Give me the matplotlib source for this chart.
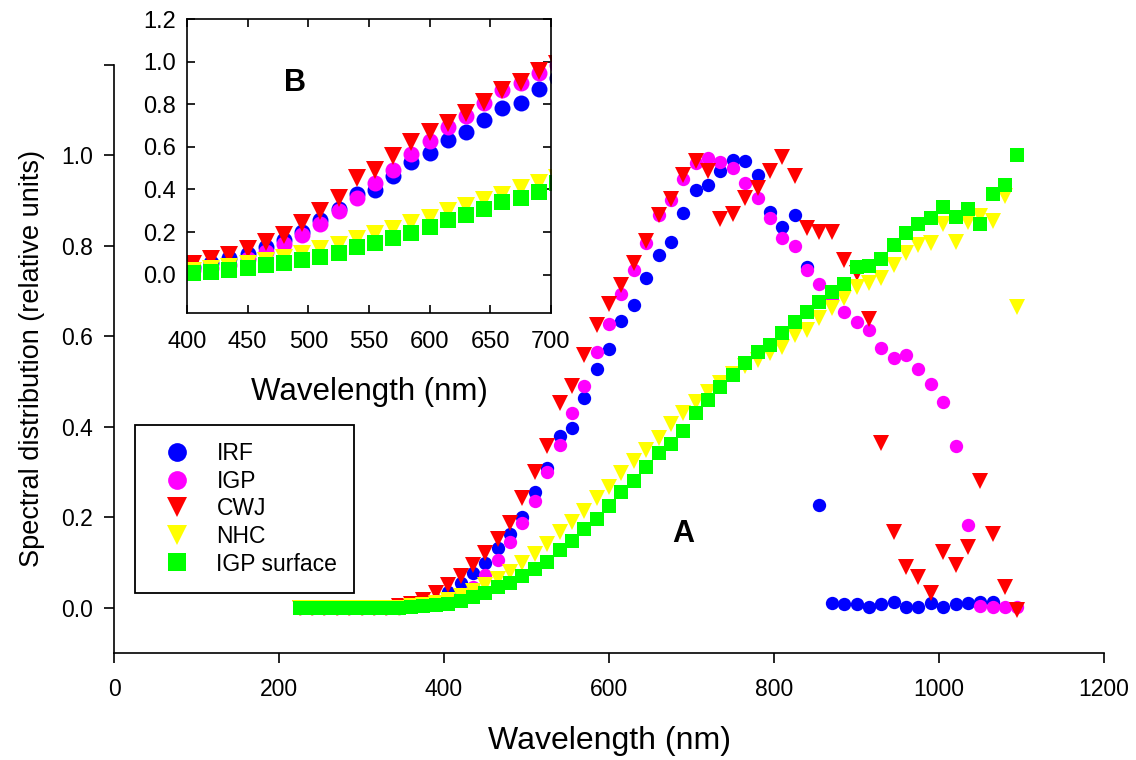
import numpy as np
import matplotlib
matplotlib.use('Agg')
import matplotlib.pyplot as plt
from matplotlib.lines import Line2D
from matplotlib.ticker import FormatStrFormatter

plt.rcParams['font.family'] = ['Liberation Sans', 'DejaVu Sans']

# data (relative units), 15 nm grid
wavelength = [225, 240, 255, 270, 285, 300, 315, 330, 345, 360,
              375, 390, 405, 420, 435, 450, 465, 480, 495, 510,
              525, 540, 555, 570, 585, 600, 615, 630, 645, 660,
              675, 690, 705, 720, 735, 750, 765, 780, 795, 810,
              825, 840, 855, 870, 885, 900, 915, 930, 945, 960,
              975, 990, 1005, 1020, 1035, 1050, 1065, 1080, 1095]

irf = [0.0, 0.0, 0.0, 0.0, 0.0, 0.0, 0.0, 0.0, 0.0, 0.003,
       0.008, 0.018, 0.035, 0.055, 0.076, 0.098, 0.131, 0.164, 0.200, 0.255,
       0.308, 0.380, 0.398, 0.463, 0.527, 0.572, 0.634, 0.668, 0.728, 0.780,
       0.808, 0.872, 0.922, 0.934, 0.966, 0.990, 0.988, 0.956, 0.874, 0.841,
       0.868, 0.754, 0.227, 0.010, 0.008, 0.008, 0.002, 0.008, 0.013, 0.002,
       0.001, 0.010, 0.001, 0.008, 0.010, 0.013, 0.013, np.nan, np.nan]

igp = [0.0, 0.0, 0.0, 0.0, 0.0, 0.0, 0.0, 0.0, 0.0, 0.003,
       0.007, 0.012, 0.020, 0.030, 0.046, 0.072, 0.105, 0.145, 0.188, 0.236,
       0.300, 0.360, 0.430, 0.489, 0.565, 0.628, 0.694, 0.746, 0.805, 0.868,
       0.900, 0.947, 0.982, 0.993, 0.986, 0.971, 0.938, 0.905, 0.861, 0.816,
       0.799, 0.746, 0.716, 0.684, 0.654, 0.631, 0.614, 0.573, 0.551, 0.558,
       0.527, 0.494, 0.454, 0.358, 0.183, 0.003, 0.001, 0.001, 0.001]

cwj = [0.0, 0.0, 0.0, 0.0, 0.0, 0.0, 0.0, 0.0, 0.003, 0.008,
       0.018, 0.033, 0.050, 0.071, 0.094, 0.121, 0.152, 0.188, 0.243, 0.300,
       0.358, 0.452, 0.489, 0.559, 0.624, 0.671, 0.713, 0.761, 0.810, 0.868,
       0.903, 0.957, 0.987, 0.964, 0.860, 0.870, 0.905, 0.927, 0.964, 0.995,
       0.954, 0.838, 0.831, 0.831, 0.769, 0.739, 0.638, 0.363, 0.168, 0.091,
       0.069, 0.032, 0.124, 0.094, 0.135, 0.281, 0.164, 0.045, -0.005]

nhc = [0.0, 0.0, 0.0, 0.0, 0.0, 0.0, 0.0, 0.0, 0.0, 0.003,
       0.006, 0.010, 0.018, 0.027, 0.038, 0.050, 0.064, 0.080, 0.098, 0.118,
       0.141, 0.168, 0.190, 0.214, 0.242, 0.267, 0.298, 0.324, 0.348, 0.374,
       0.405, 0.431, 0.455, 0.476, 0.496, 0.516, 0.535, 0.548, 0.562, 0.577,
       0.603, 0.614, 0.640, 0.662, 0.684, 0.709, 0.717, 0.728, 0.757, 0.783,
       0.802, 0.805, 0.849, 0.809, 0.853, 0.866, 0.855, 0.910, 0.664]

igp_surface = [0.0, 0.0, 0.0, 0.0, 0.0, 0.0, 0.0, 0.0, 0.0, 0.001,
               0.003, 0.005, 0.008, 0.014, 0.024, 0.032, 0.045, 0.055, 0.070, 0.085,
               0.100, 0.128, 0.148, 0.173, 0.197, 0.225, 0.255, 0.280, 0.310, 0.343,
               0.362, 0.390, 0.430, 0.458, 0.488, 0.514, 0.540, 0.566, 0.580, 0.606,
               0.632, 0.654, 0.676, 0.697, 0.715, 0.752, 0.755, 0.770, 0.802, 0.829,
               0.848, 0.861, 0.885, 0.863, 0.880, 0.848, 0.914, 0.934, 1.000]

labels = ['IRF', 'IGP', 'CWJ', 'NHC', 'IGP surface']
values = [irf, igp, cwj, nhc, igp_surface]
markers = ['o', 'o', 'v', 'v', 's']
colors = ['#0000ff', '#ff00ff', '#ff0000', '#ffff00', '#00ff00']
size_main = [9.6, 9.6, 11.4, 11.4, 10.6]
size_inset = [11.5, 11.5, 13, 13, 12]
size_legend = [13.5, 13.5, 14.5, 14.5, 13]

fig = plt.figure(figsize=(11.36, 7.6), dpi=100)

# main panel (A)
ax = fig.add_axes([0.1004, 0.1408, 0.8715, 0.7741])
for v, m, c, s in zip(values, markers, colors, size_main):
    ax.plot(wavelength, v, ls='none', marker=m, color=c, ms=s, mew=0)
ax.set_xlim(0, 1200)
ax.set_ylim(-0.1, 1.2)
ax.set_xticks([0, 200, 400, 600, 800, 1000, 1200])
ax.set_yticks([0.0, 0.2, 0.4, 0.6, 0.8, 1.0, 1.2])
ax.set_yticklabels(['0.0', '0.2', '0.4', '0.6', '0.8', '1.0', ''])
ax.spines['top'].set_visible(False)
ax.spines['right'].set_visible(False)
for sp in ['left', 'bottom']:
    ax.spines[sp].set_linewidth(1.2)
ax.tick_params(direction='out', length=7, width=1.2, pad=8, labelsize=16.5)
ax.tick_params(axis='x', pad=11)
ax.set_xlabel('Wavelength (nm)', fontsize=23, labelpad=18)
ax.set_ylabel('Spectral distribution (relative units)', fontsize=19.5, labelpad=12)
ax.text(690, 0.164, 'A', fontsize=22, fontweight='bold', ha='center', va='center')

handles = [Line2D([], [], ls='none', marker=m, color=c, ms=s, mew=0)
           for m, c, s in zip(markers, colors, size_legend)]
leg = ax.legend(handles, labels, loc='lower left', bbox_to_anchor=(0.0212, 0.1025),
                borderaxespad=0, fontsize=16.5, frameon=True, fancybox=False,
                edgecolor='black', framealpha=1, borderpad=0.75, labelspacing=0.2,
                handlelength=2.2, handletextpad=0.6)
leg.get_frame().set_linewidth(1.3)

# inset (B)
axins = fig.add_axes([0.1646, 0.5882, 0.3204, 0.3868])
axins.set_facecolor('white')
for v, m, c, s in zip(values, markers, colors, size_inset):
    axins.plot(wavelength, v, ls='none', marker=m, color=c, ms=s, mew=0)
axins.set_xlim(400, 700)
axins.set_ylim(-0.18, 1.2)
axins.set_xticks([400, 450, 500, 550, 600, 650, 700])
axins.set_yticks([0.0, 0.2, 0.4, 0.6, 0.8, 1.0, 1.2])
axins.yaxis.set_major_formatter(FormatStrFormatter('%.1f'))
for sp in axins.spines.values():
    sp.set_linewidth(1.2)
axins.tick_params(direction='in', length=6, width=1.2, pad=8, labelsize=17,
                  top=True, right=True)
axins.tick_params(axis='x', pad=13)
axins.set_xlabel('Wavelength (nm)', fontsize=22.5, labelpad=17)
axins.text(489, 0.90, 'B', fontsize=22, fontweight='bold', ha='center', va='center')

fig.savefig('out.png', dpi=100)
